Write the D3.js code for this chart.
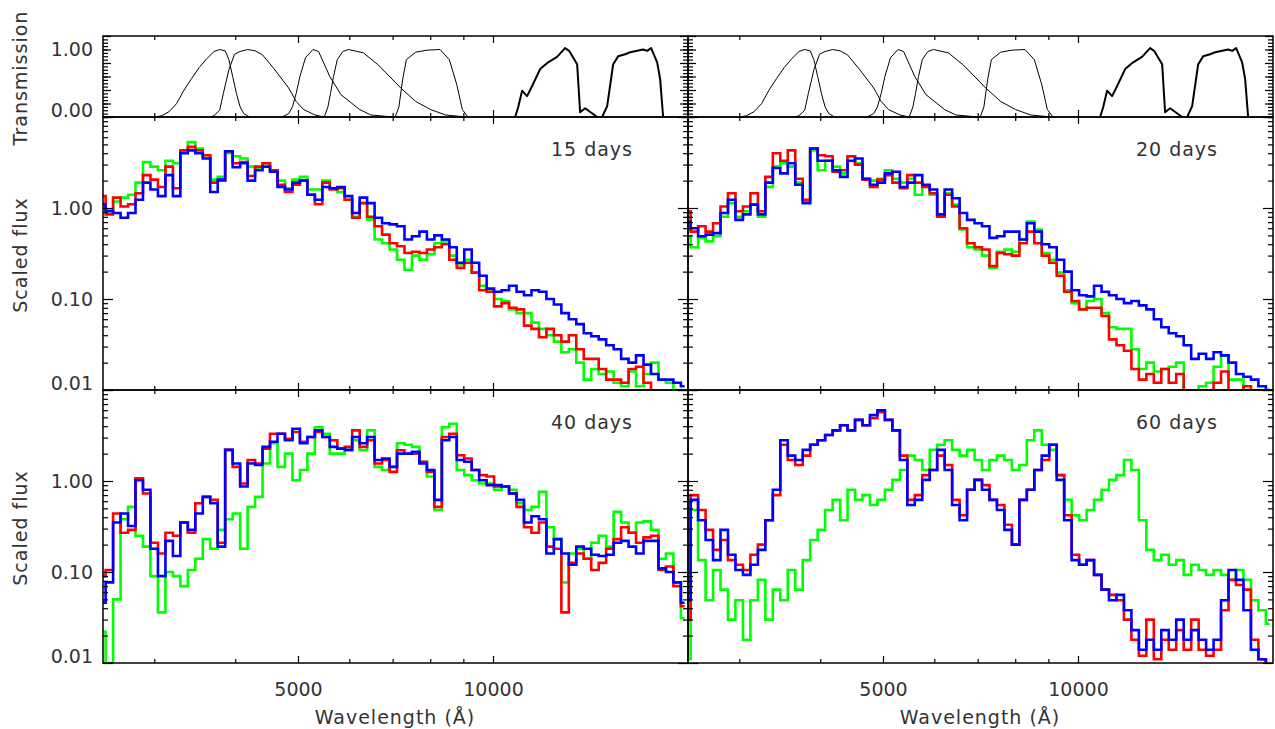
<!DOCTYPE html>
<html>
<head>
<meta charset="utf-8">
<script src="https://cdn.jsdelivr.net/npm/d3@7"></script>
<style>
  body { margin: 0; background: #fff; }
  text { font-family: "DejaVu Sans", sans-serif; fill: #333; }
</style>
</head>
<body>
<svg width="1275" height="729"></svg>
<script>
// wavelength grid (Angstrom), shared by all spectra
var wave = [2490,2557,2626,2697,2769,2844,2920,2999,3080,3163,3248,3335,3425,3517,3612,3709,3809,3911,4017,4125,
  4236,4350,4467,4587,4711,4837,4968,5101,5239,5380,5524,5673,5826,5982,6143,6309,6478,6653,6832,7016,
  7204,7398,7597,7802,8012,8227,8449,8676,8909,9149,9395,9648,9907,10174,10448,10729,11018,11314,11619,11931,
  12252,12582,12921,13268,13625,13992,14368,14755,15152,15560,15978,16408,16850,17303,17769,18247,18738,19242,19760];

var epochs = ["15 days", "20 days", "40 days", "60 days"];

// 15 days
var green15 = [1.04,0.96,1.18,1.3,1.4,1.9,3.2,2.85,2.6,3.3,3.1,4.3,5.3,4.5,3.8,2.05,2.2,4.0,3.7,3.5,
  2.85,2.75,3.1,2.6,2.0,1.65,2.05,2.2,1.6,1.6,2.0,1.65,1.5,1.23,0.8,1.13,0.75,0.45,0.41,0.35,
  0.27,0.21,0.3,0.27,0.31,0.41,0.43,0.3,0.24,0.27,0.195,0.14,0.12,0.1,0.095,0.077,0.07,0.07,0.055,0.047,
  0.04,0.034,0.026,0.028,0.02,0.013,0.017,0.015,0.016,0.012,0.011,0.016,0.011,0.015,0.02,0.013,0.012,0.01,0.009];
var red15 = [1.35,0.85,1.3,1.04,1.1,1.45,2.3,2.05,1.7,2.85,1.65,4.3,4.7,4.3,3.8,1.9,2.0,4.2,3.1,3.2,
  2.25,2.85,3.1,2.6,1.8,1.5,1.8,2.0,1.4,1.1,1.9,1.6,1.65,1.23,0.78,1.13,0.8,0.63,0.51,0.41,
  0.38,0.32,0.33,0.32,0.35,0.37,0.4,0.27,0.22,0.25,0.195,0.125,0.12,0.083,0.09,0.08,0.077,0.051,0.047,0.038,
  0.047,0.04,0.034,0.04,0.028,0.022,0.022,0.017,0.013,0.013,0.012,0.017,0.018,0.012,0.009,0.009,0.008,0.008,0.008];
var blue15 = [1.1,0.92,0.88,0.78,0.88,1.23,1.9,1.6,1.35,2.3,1.35,4.0,4.3,4.0,3.5,1.5,2.05,4.2,2.8,3.1,
  2.0,2.6,2.85,2.5,1.7,1.6,1.9,2.0,1.4,1.23,1.7,1.65,1.7,1.35,0.88,1.3,1.13,0.78,0.68,0.66,
  0.63,0.45,0.49,0.55,0.45,0.5,0.45,0.37,0.25,0.35,0.25,0.18,0.13,0.12,0.125,0.14,0.12,0.11,0.125,0.12,
  0.1,0.087,0.07,0.06,0.053,0.042,0.039,0.036,0.031,0.028,0.022,0.02,0.024,0.019,0.015,0.013,0.013,0.012,0.011];

// 20 days
var green20 = [0.49,0.37,0.47,0.43,0.49,0.8,1.13,0.8,0.92,1.09,0.8,1.7,2.85,3.1,2.85,1.9,1.18,4.3,2.6,3.3,
  2.85,2.4,3.7,3.1,2.1,2.0,2.1,2.6,2.1,1.9,2.1,1.4,1.7,1.4,0.85,1.45,1.09,0.58,0.37,0.35,
  0.3,0.22,0.33,0.35,0.33,0.45,0.71,0.58,0.32,0.27,0.195,0.125,0.09,0.077,0.095,0.1,0.07,0.049,0.047,0.047,
  0.028,0.017,0.02,0.016,0.017,0.018,0.02,0.008,0.008,0.011,0.012,0.018,0.024,0.013,0.013,0.01,0.008,0.008,0.008];
var red20 = [0.92,0.55,0.63,0.55,0.68,1.04,1.45,0.92,1.04,1.45,0.92,2.2,4.0,3.3,4.3,2.1,1.23,4.5,3.8,3.7,
  2.5,2.6,3.7,3.0,2.05,1.7,2.05,2.3,1.9,1.65,2.3,1.9,1.7,1.45,0.8,1.4,1.04,0.6,0.41,0.37,
  0.35,0.23,0.32,0.31,0.3,0.41,0.55,0.41,0.3,0.25,0.18,0.12,0.095,0.077,0.08,0.08,0.065,0.036,0.031,0.027,
  0.017,0.013,0.015,0.012,0.017,0.012,0.015,0.008,0.008,0.008,0.008,0.012,0.016,0.008,0.008,0.011,0.008,0.008,0.008];
var blue20 = [0.71,0.6,0.49,0.51,0.53,0.88,1.23,0.74,0.85,1.09,0.85,1.9,2.75,2.4,3.1,1.8,1.13,4.5,3.3,3.3,
  2.6,2.2,3.3,3.5,2.1,1.8,1.9,2.4,2.5,1.7,1.9,2.3,1.8,1.6,0.85,1.6,1.28,0.88,0.74,0.68,
  0.63,0.47,0.49,0.55,0.55,0.45,0.68,0.55,0.4,0.37,0.27,0.2,0.125,0.11,0.107,0.14,0.12,0.11,0.1,0.09,
  0.095,0.085,0.077,0.06,0.049,0.042,0.039,0.031,0.022,0.025,0.022,0.026,0.024,0.02,0.015,0.014,0.013,0.011,0.01];

// 40 days
var green40 = [0.022,0.01,0.05,0.38,0.52,0.25,0.19,0.09,0.036,0.1,0.09,0.07,0.105,0.14,0.23,0.18,0.29,0.38,0.44,0.18,
  0.52,0.67,1.56,2.6,1.43,2.0,1.02,1.32,2.0,3.9,3.3,2.0,2.0,2.18,2.8,2.18,3.6,1.43,1.32,1.43,
  2.6,2.5,2.37,1.63,1.12,0.48,3.9,4.25,1.32,1.16,1.02,0.94,0.94,0.8,0.87,0.8,0.57,0.48,0.52,0.76,
  0.31,0.23,0.077,0.16,0.18,0.14,0.21,0.25,0.19,0.46,0.35,0.27,0.35,0.36,0.29,0.14,0.16,0.077,0.031];
var red40 = [0.09,0.105,0.44,0.27,0.29,1.07,0.73,0.21,0.16,0.27,0.25,0.35,0.27,0.57,0.67,0.62,0.21,2.2,1.43,0.94,
  1.7,1.56,2.27,3.3,3.3,2.9,3.45,2.7,3.05,3.45,3.05,2.8,2.27,2.37,3.6,2.37,2.8,1.56,1.7,1.26,
  2.18,2.0,2.0,1.63,1.26,0.52,3.05,3.3,1.92,1.77,1.32,1.16,1.12,0.87,0.87,0.73,0.52,0.31,0.27,0.35,
  0.19,0.18,0.036,0.126,0.16,0.14,0.105,0.126,0.18,0.23,0.31,0.27,0.21,0.24,0.25,0.105,0.115,0.07,0.042];
var blue40 = [0.046,0.077,0.35,0.44,0.32,1.02,0.8,0.18,0.09,0.22,0.15,0.35,0.29,0.44,0.67,0.57,0.19,2.2,1.56,0.87,
  1.56,1.5,2.37,2.7,3.3,2.8,3.75,2.6,3.05,3.6,3.05,2.37,2.27,2.2,3.05,2.6,3.05,1.7,1.77,1.43,
  2.0,2.0,2.1,1.56,1.32,0.62,2.8,3.05,1.7,1.63,1.32,1.02,0.9,0.9,0.87,0.73,0.62,0.35,0.41,0.38,
  0.16,0.23,0.16,0.12,0.19,0.18,0.155,0.15,0.155,0.21,0.22,0.19,0.16,0.22,0.22,0.11,0.1,0.077,0.046];

// 60 days
var green60 = [0.011,0.48,0.135,0.049,0.105,0.064,0.03,0.049,0.018,0.049,0.082,0.03,0.064,0.049,0.105,0.064,0.135,0.225,0.29,0.48,
  0.62,0.37,0.8,0.62,0.7,0.545,0.62,0.8,1.03,1.32,1.9,1.7,1.32,2.2,2.5,2.8,2.2,1.9,2.2,1.7,
  1.32,1.7,1.9,1.7,1.32,1.5,2.8,3.6,2.5,2.2,1.16,0.62,0.42,0.37,0.48,0.62,0.8,1.03,1.16,1.7,
  1.32,0.37,0.175,0.135,0.155,0.12,0.135,0.093,0.12,0.105,0.093,0.105,0.093,0.082,0.105,0.082,0.049,0.038,0.027];
var red60 = [0.03,0.7,0.48,0.29,0.175,0.225,0.135,0.12,0.105,0.155,0.2,0.37,0.7,2.5,1.7,1.5,1.9,2.5,2.8,3.2,
  3.6,4.1,3.6,4.7,4.1,4.9,5.7,4.7,3.6,1.9,0.62,0.7,1.16,1.32,1.9,1.5,0.62,0.42,0.8,1.03,
  0.9,0.62,0.545,0.33,0.2,0.62,0.8,1.32,1.7,2.5,1.16,0.42,0.155,0.12,0.135,0.093,0.064,0.056,0.049,0.03,
  0.018,0.012,0.03,0.011,0.018,0.014,0.023,0.014,0.03,0.014,0.012,0.014,0.038,0.082,0.072,0.064,0.018,0.011,0.0095];
var blue60 = [0.049,0.62,0.37,0.225,0.135,0.29,0.155,0.105,0.093,0.12,0.175,0.37,0.8,2.8,1.9,1.7,2.2,2.5,2.8,3.2,
  3.6,4.1,3.6,4.7,4.1,5.3,6.0,4.7,3.6,1.7,0.545,0.62,1.03,1.32,2.2,1.32,0.545,0.37,0.8,1.03,
  0.8,0.62,0.48,0.29,0.2,0.62,0.8,1.32,1.9,2.5,1.03,0.37,0.135,0.12,0.135,0.093,0.064,0.049,0.056,0.038,
  0.023,0.014,0.018,0.014,0.023,0.018,0.03,0.018,0.023,0.018,0.014,0.018,0.049,0.105,0.082,0.038,0.014,0.011,0.0095];

// filter transmission curves
var uWave = [3010,3080,3163,3248,3335,3425,3517,3612,3709,3785,3860,3911,3964,4017,4070,4125,4208];
var uTrans = [0,0.02,0.08,0.2,0.4,0.57,0.73,0.86,0.97,1.0,0.98,0.85,0.6,0.35,0.15,0.05,0];
var bWave = [3660,3709,3785,3835,3911,3990,4070,4180,4293,4408,4587,4837,4968,5101,5310,5490];
var bTrans = [0,0.02,0.1,0.35,0.7,0.93,0.97,1.0,0.98,0.92,0.72,0.43,0.23,0.11,0.03,0];
var vWave = [4725,4837,4902,4968,5034,5135,5274,5380,5598,5826,6225,6478,7016];
var vTrans = [0,0.05,0.15,0.35,0.6,0.88,1.0,0.97,0.6,0.33,0.11,0.03,0];
var rWave = [5488,5561,5613,5673,5749,5864,5982,6309,6653,7204,7597,8012,8449,9090];
var rTrans = [0,0.15,0.35,0.6,0.85,0.97,1.0,0.95,0.77,0.43,0.23,0.11,0.03,0];
var iWave = [7063,7157,7252,7349,7597,7906,8283,8562,8792,8968,9149];
var iTrans = [0,0.15,0.55,0.85,0.96,0.99,1.0,0.85,0.48,0.11,0];
var jWave = [10817,10933,11090,11288,11493,11824,12166,12557,12920,13107,13487,13630,13875,14481];
var jTrans = [0,0.14,0.39,0.31,0.46,0.71,0.81,0.89,1.02,0.98,0.78,0.07,0.13,0];
var hWave = [14740,15005,15328,15603,15995,16283,17052,17300,17545,17924,18115,18308];
var hTrans = [0,0.16,0.78,0.9,0.93,0.96,1.0,0.98,1.02,0.81,0.56,0];

var filters = [
  { w: uWave, t: uTrans, width: 1 },
  { w: bWave, t: bTrans, width: 1 },
  { w: vWave, t: vTrans, width: 1 },
  { w: rWave, t: rTrans, width: 1 },
  { w: iWave, t: iTrans, width: 1 },
  { w: jWave, t: jTrans, width: 2 },
  { w: hWave, t: hTrans, width: 2 }
];

var spectra = [
  [green15, red15, blue15],
  [green20, red20, blue20],
  [green40, red40, blue40],
  [green60, red60, blue60]
];
var lineColors = ["#00ff00", "#ff0000", "#0000ff"];

var svg = d3.select("svg");
var colX = [103, 688];
var panelW = 585;
var topY = 36, topH = 81;
var rowY = [117, 390], rowH = 273;

var x = d3.scaleLog().domain([2500, 20000]).range([0, panelW]);
var yT = d3.scaleLinear().domain([0, 1.2]).range([topH, 0]);
var yF = d3.scaleLog().domain([0.01, 10]).range([rowH, 0]);

var xMajor = [5000, 10000];
var xMinor = [3000, 4000, 6000, 7000, 8000, 9000];
var fMajor = [0.01, 0.1, 1, 10];
var fMinor = [];
[0.01, 0.1, 1].forEach(function (d) {
  for (var m = 2; m <= 9; m++) fMinor.push(d * m);
});
var tMajor = d3.range(0, 1.21, 0.2);
var tMinor = d3.range(0, 1.2, 0.05);

function strip(g) {
  g.select(".domain").remove();
  g.selectAll(".tick line").attr("stroke", "#000").attr("stroke-width", 1.2);
}

function frameTicks(g, h, yScale, yMaj, yMin, yMajLen) {
  g.append("g").attr("transform", "translate(0," + h + ")")
    .call(d3.axisBottom(x).tickValues(xMajor).tickSize(-7).tickFormat("")).call(strip);
  g.append("g").attr("transform", "translate(0," + h + ")")
    .call(d3.axisBottom(x).tickValues(xMinor).tickSize(-4).tickFormat("")).call(strip);
  g.append("g").call(d3.axisTop(x).tickValues(xMajor).tickSize(-7).tickFormat("")).call(strip);
  g.append("g").call(d3.axisTop(x).tickValues(xMinor).tickSize(-4).tickFormat("")).call(strip);
  g.append("g").call(d3.axisLeft(yScale).tickValues(yMaj).tickSize(-yMajLen).tickFormat("")).call(strip);
  g.append("g").call(d3.axisLeft(yScale).tickValues(yMin).tickSize(-5).tickFormat("")).call(strip);
  g.append("g").attr("transform", "translate(" + panelW + ",0)")
    .call(d3.axisRight(yScale).tickValues(yMaj).tickSize(-yMajLen).tickFormat("")).call(strip);
  g.append("g").attr("transform", "translate(" + panelW + ",0)")
    .call(d3.axisRight(yScale).tickValues(yMin).tickSize(-5).tickFormat("")).call(strip);
  g.append("rect").attr("width", panelW).attr("height", h)
    .attr("fill", "none").attr("stroke", "#000").attr("stroke-width", 1.5);
}

function yLabels(g, h, yScale, vals, fmt) {
  var ax = g.append("g")
    .call(d3.axisLeft(yScale).tickValues(vals).tickSize(0).tickPadding(10).tickFormat(fmt));
  ax.select(".domain").remove();
  ax.selectAll("text").style("font-size", "19px").attr("fill", "#333")
    .attr("transform", function (d) { return yScale(d) > h - 7 ? "translate(0," + (h - 7 - yScale(d)) + ")" : null; });
}

// transmission panels
var trLine = d3.line().x(function (d) { return x(d[0]); }).y(function (d) { return yT(d[1]); });
colX.forEach(function (cx, ci) {
  var g = svg.append("g").attr("transform", "translate(" + cx + "," + topY + ")");
  filters.forEach(function (f) {
    g.append("path")
      .datum(f.w.map(function (w, i) { return [w, f.t[i]]; }))
      .attr("d", trLine)
      .attr("fill", "none").attr("stroke", "#000").attr("stroke-width", f.width)
      .attr("stroke-linejoin", "round");
  });
  frameTicks(g, topH, yT, tMajor, tMinor, 8);
  if (ci === 0) yLabels(g, topH, yT, [0, 1], d3.format(".2f"));
});

// spectra panels
var specLine = d3.line().curve(d3.curveStep)
  .x(function (d) { return x(d[0]); }).y(function (d) { return yF(d[1]); });

epochs.forEach(function (label, p) {
  var ci = p % 2, ri = Math.floor(p / 2);
  var g = svg.append("g").attr("transform", "translate(" + colX[ci] + "," + rowY[ri] + ")");
  var clipId = "clip" + p;
  g.append("clipPath").attr("id", clipId).append("rect").attr("width", panelW).attr("height", rowH);
  var lines = g.append("g").attr("clip-path", "url(#" + clipId + ")");
  spectra[p].forEach(function (series, si) {
    lines.append("path")
      .datum(wave.map(function (w, i) { return [w, series[i]]; }))
      .attr("d", specLine)
      .attr("fill", "none").attr("stroke", lineColors[si]).attr("stroke-width", 2.6);
  });
  frameTicks(g, rowH, yF, fMajor, fMinor, 10);
  if (ci === 0) yLabels(g, rowH, yF, [0.01, 0.1, 1], d3.format(".2f"));
  g.append("text").attr("x", 530).attr("y", 39)
    .attr("text-anchor", "end").style("font-size", "19px").style("letter-spacing", "1px")
    .text(label);
  if (ri === 1) {
    var ax = g.append("g").attr("transform", "translate(0," + rowH + ")")
      .call(d3.axisBottom(x).tickValues(xMajor).tickSize(0).tickPadding(20).tickFormat(d3.format("d")));
    ax.select(".domain").remove();
    ax.selectAll("text").style("font-size", "19px").attr("fill", "#333");
    g.append("text").attr("x", x(5000) + 97).attr("y", rowH + 61)
      .attr("text-anchor", "middle").style("font-size", "19px").style("letter-spacing", "1px")
      .text("Wavelength (\u00c5)");
  }
});

// y axis titles
[["Transmission", 78], ["Scaled flux", 255], ["Scaled flux", 528]].forEach(function (t) {
  svg.append("text")
    .attr("transform", "translate(27," + t[1] + ") rotate(-90)")
    .attr("text-anchor", "middle").style("font-size", "19px").style("letter-spacing", "1px")
    .text(t[0]);
});
</script>
</body>
</html>
